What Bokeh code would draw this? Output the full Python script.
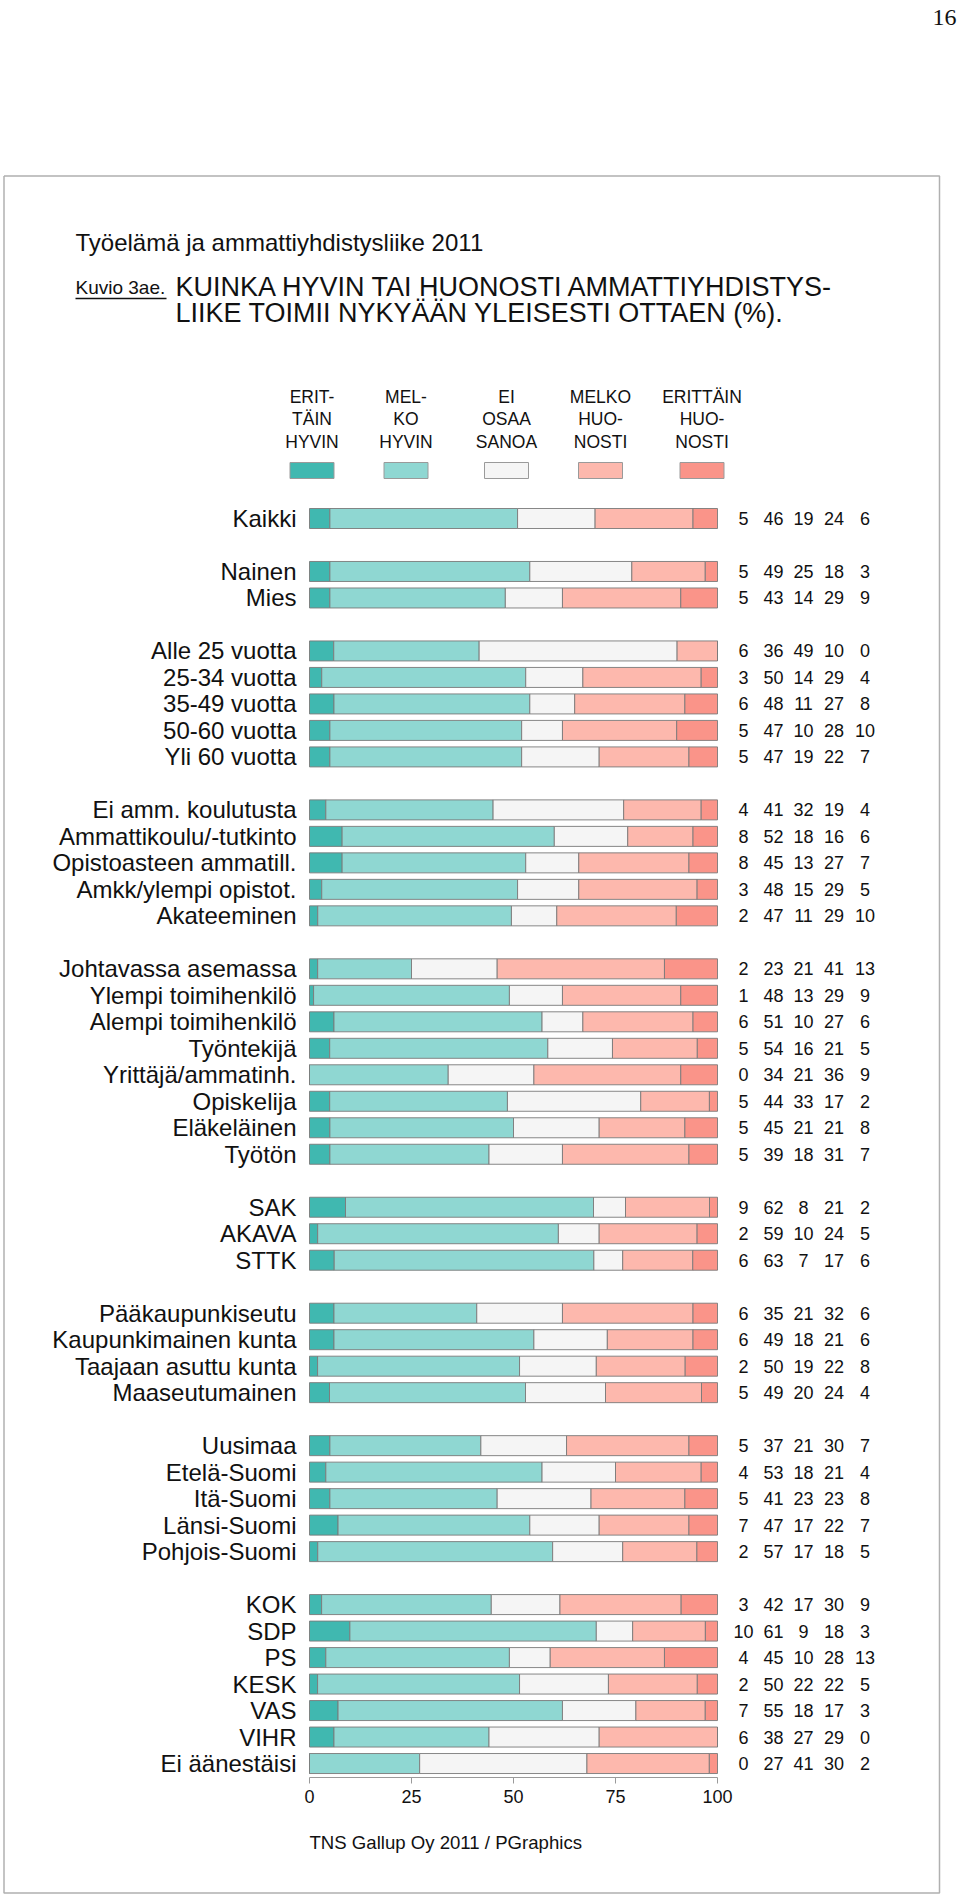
import numpy as np
from bokeh.plotting import figure
from bokeh.models import Range1d, LinearAxis, FixedTicker
from bokeh.core.properties import value
from bokeh.embed import file_html
from bokeh.resources import INLINE

# ---------------- data ----------------
categories = [
    "Kaikki",
    "Nainen", "Mies",
    "Alle 25 vuotta", "25-34 vuotta", "35-49 vuotta", "50-60 vuotta", "Yli 60 vuotta",
    "Ei amm. koulutusta", "Ammattikoulu/-tutkinto", "Opistoasteen ammatill.",
    "Amkk/ylempi opistot.", "Akateeminen",
    "Johtavassa asemassa", "Ylempi toimihenkilö", "Alempi toimihenkilö", "Työntekijä",
    "Yrittäjä/ammatinh.", "Opiskelija", "Eläkeläinen", "Työtön",
    "SAK", "AKAVA", "STTK",
    "Pääkaupunkiseutu", "Kaupunkimainen kunta", "Taajaan asuttu kunta", "Maaseutumainen",
    "Uusimaa", "Etelä-Suomi", "Itä-Suomi", "Länsi-Suomi", "Pohjois-Suomi",
    "KOK", "SDP", "PS", "KESK", "VAS", "VIHR", "Ei äänestäisi",
]
group_sizes = [1, 2, 5, 5, 8, 3, 4, 5, 7]

erittain_hyvin = [5, 5, 5, 6, 3, 6, 5, 5, 4, 8, 8, 3, 2, 2, 1, 6, 5, 0, 5, 5, 5,
                  9, 2, 6, 6, 6, 2, 5, 5, 4, 5, 7, 2, 3, 10, 4, 2, 7, 6, 0]
melko_hyvin = [46, 49, 43, 36, 50, 48, 47, 47, 41, 52, 45, 48, 47, 23, 48, 51, 54, 34, 44, 45, 39,
               62, 59, 63, 35, 49, 50, 49, 37, 53, 41, 47, 57, 42, 61, 45, 50, 55, 38, 27]
ei_osaa_sanoa = [19, 25, 14, 49, 14, 11, 10, 19, 32, 18, 13, 15, 11, 21, 13, 10, 16, 21, 33, 21, 18,
                 8, 10, 7, 21, 18, 19, 20, 21, 18, 23, 17, 17, 17, 9, 10, 22, 18, 27, 41]
melko_huonosti = [24, 18, 29, 10, 29, 27, 28, 22, 19, 16, 27, 29, 29, 41, 29, 27, 21, 36, 17, 21, 31,
                  21, 24, 17, 32, 21, 22, 24, 30, 21, 23, 22, 18, 30, 18, 28, 22, 17, 29, 30]
erittain_huonosti = [6, 3, 9, 0, 4, 8, 10, 7, 4, 6, 7, 5, 10, 13, 9, 6, 5, 9, 2, 8, 7,
                     2, 5, 6, 6, 6, 8, 4, 7, 4, 8, 7, 5, 9, 3, 13, 5, 3, 0, 2]

legend_labels = [["ERIT-", "TÄIN", "HYVIN"], ["MEL-", "KO", "HYVIN"], ["EI", "OSAA", "SANOA"],
                 ["MELKO", "HUO-", "NOSTI"], ["ERITTÄIN", "HUO-", "NOSTI"]]
axis_ticks = [0, 25, 50, 75, 100]

# ---------------- styling / layout ----------------
colors = ["#40b8b0", "#8fd7d2", "#f5f5f5", "#fdb8ad", "#fa9489"]
FONT = value("Liberation Sans")
W, H = 960, 1894
OX, OY = 0, 0
X0_PX, X100_PX = 309, 717
ROW0_PX, PITCH = 518, 26.49


def dx(px):
    return (px - X0_PX) / (X100_PX - X0_PX) * 100.0


def dy(py):
    return (py - ROW0_PX) / PITCH


p = figure(width=W, height=H,
           x_range=Range1d(dx(OX), dx(OX + W)),
           y_range=Range1d(dy(OY + H), dy(OY)),
           output_backend="svg", toolbar_location=None,
           x_axis_type=None, y_axis_type=None, min_border=0)
p.outline_line_color = None
p.background_fill_color = "white"

# row positions (with blank row between groups)
rows = []
r = 0
for g in group_sizes:
    for _ in range(g):
        rows.append(r)
        r += 1
    r += 1

series = [erittain_hyvin, melko_hyvin, ei_osaa_sanoa, melko_huonosti, erittain_huonosti]
vals = np.array(series, dtype=float)
norm = vals / vals.sum(axis=0) * 100.0
cum = np.vstack([np.zeros(len(categories)), np.cumsum(norm, axis=0)])

bar_h = 20.0 / PITCH
for k in range(5):
    p.hbar(y=rows, left=cum[k], right=cum[k + 1], height=bar_h,
           fill_color=colors[k], line_color="#7a7a7a", line_width=1, line_alpha=0.9)

# category labels
p.text(x=[dx(296)] * len(categories), y=rows, text=categories,
       text_align="right", text_baseline="middle", text_font=FONT,
       text_font_size="24px", text_color="#111111")

# value columns
col_px = [743, 773, 803, 833.5, 864.5]
for k in range(5):
    p.text(x=[dx(col_px[k])] * len(categories), y=rows, text=[str(v) for v in series[k]],
           text_align="center", text_baseline="middle", text_font=FONT,
           text_font_size="18px", text_color="#111111")

# x axis
ax = LinearAxis(fixed_location=dy(1777), bounds=(0, 100),
                ticker=FixedTicker(ticks=axis_ticks))
ax.axis_line_color = "#9a9a9a"
ax.major_tick_line_color = "#9a9a9a"
ax.major_tick_out = 6
ax.major_tick_in = 0
ax.minor_tick_line_color = None
ax.major_label_text_font = "Liberation Sans"
ax.major_label_text_font_size = "18px"
ax.major_label_text_color = "#111111"
ax.major_label_standoff = 6
p.add_layout(ax, "below")

# legend
leg_px = [311.5, 405.5, 506, 600, 701.5]
p.rect(x=[dx(v) for v in leg_px], y=[dy(470)] * 5, width=44, height=16,
       width_units="screen", height_units="screen",
       fill_color=colors, line_color="#9a9a9a", line_width=1)
for li, ly in enumerate([396, 418.5, 441]):
    p.text(x=[dx(v) for v in leg_px], y=[dy(ly)] * 5, text=[lab[li] for lab in legend_labels],
           text_align="center", text_baseline="middle", text_font=FONT,
           text_font_size="17.5px", text_color="#111111")

# titles
p.text(x=[dx(75)], y=[dy(242)], text=["Työelämä ja ammattiyhdistysliike 2011"],
       text_align="left", text_baseline="middle", text_font=FONT,
       text_font_size="24px", text_color="#111111")
p.text(x=[dx(75)], y=[dy(287)], text=["Kuvio 3ae."],
       text_align="left", text_baseline="middle", text_font=FONT,
       text_font_size="19px", text_color="#111111")
p.segment(x0=[dx(75)], x1=[dx(166)], y0=[dy(298)], y1=[dy(298)], line_color="#111111", line_width=1.3)
p.text(x=[dx(175)] * 2, y=[dy(286), dy(312)],
       text=["KUINKA HYVIN TAI HUONOSTI AMMATTIYHDISTYS-", "LIIKE TOIMII NYKYÄÄN YLEISESTI OTTAEN (%)."],
       text_align="left", text_baseline="middle", text_font=FONT,
       text_font_size="27px", text_color="#111111")

# footer
p.text(x=[dx(309)], y=[dy(1842)], text=["TNS Gallup Oy 2011 / PGraphics"],
       text_align="left", text_baseline="middle", text_font=FONT,
       text_font_size="18.6px", text_color="#111111")

# page number
p.text(x=[dx(956)], y=[dy(17)], text=["16"], text_align="right", text_baseline="middle",
       text_font=value("Liberation Serif"), text_font_size="24px", text_color="#111111")

# frame box
bx0, bx1, by0, by1 = dx(3.5), dx(939), dy(175.5), dy(1892.5)
p.multi_line(xs=[[bx0, bx1, bx1, bx0, bx0]], ys=[[by0, by0, by1, by1, by0]],
             line_color="#b0b0b0", line_width=1.5)

open("out.html", "w").write(file_html(p, INLINE))
